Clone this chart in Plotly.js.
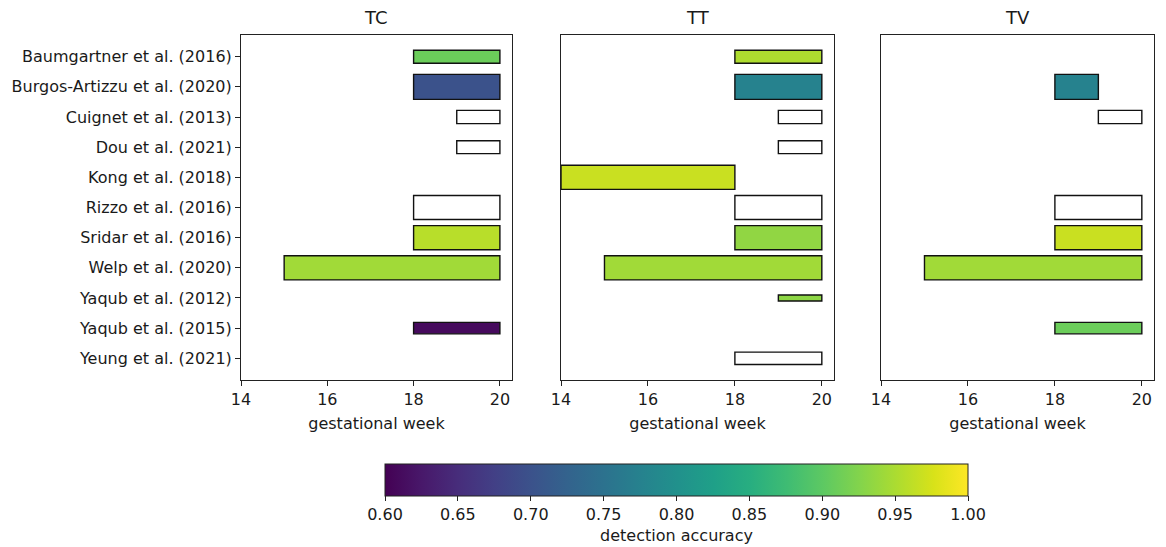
<!DOCTYPE html>
<html>
<head>
<meta charset="utf-8">
<script src="https://cdn.plot.ly/plotly-3.0.1.min.js"></script>
<style>html,body{margin:0;padding:0;background:#fff}#chart{width:1166px;height:547px}</style>
</head>
<body>
<div id="chart"></div>
<script>
// ---- data ----
const studies = ["Baumgartner et al. (2016)", "Burgos-Artizzu et al. (2020)", "Cuignet et al. (2013)", "Dou et al. (2021)", "Kong et al. (2018)", "Rizzo et al. (2016)", "Sridar et al. (2016)", "Welp et al. (2020)", "Yaqub et al. (2012)", "Yaqub et al. (2015)", "Yeung et al. (2021)"];
const thickness = [0.43, 0.83, 0.44, 0.43, 0.8, 0.8, 0.8, 0.8, 0.2, 0.38, 0.41];
const panels = ["TC", "TT", "TV"];

const tcStart = [18, 18, 19, 19, null, 18, 18, 15, null, 18, null];
const tcEnd   = [20, 20, 20, 20, null, 20, 20, 20, null, 20, null];
const tcAcc   = [0.91, 0.70, null, null, null, null, 0.958, 0.944, null, 0.61, null];

const ttStart = [18, 18, 19, 19, 14, 18, 18, 15, 19, null, 18];
const ttEnd   = [20, 20, 20, 20, 18, 20, 20, 20, 20, null, 20];
const ttAcc   = [0.952, 0.776, null, null, 0.968, null, 0.934, 0.944, 0.932, null, null];

const tvStart = [null, 18, 19, null, null, 18, 18, 15, null, 18, null];
const tvEnd   = [null, 19, 20, null, null, 20, 20, 20, null, 20, null];
const tvAcc   = [null, 0.776, null, null, null, null, 0.968, 0.944, null, 0.91, null];

const xTicks = [14, 16, 18, 20];
const accTicks = [0.60, 0.65, 0.70, 0.75, 0.80, 0.85, 0.90, 0.95, 1.00];

// ---- build ----
const FONT = "DejaVu Sans, sans-serif";
const TXT = "#1a1a1a";
const FS = 16;
const panelData = [[tcStart, tcEnd, tcAcc], [ttStart, ttEnd, ttAcc], [tvStart, tvEnd, tvAcc]];
const traces = [];
panelData.forEach((pd, p) => {
  const [st, en, ac] = pd;
  const xa = p === 0 ? "x" : "x" + (p + 1);
  const ya = p === 0 ? "y" : "y" + (p + 1);
  const col = {y: [], x: [], base: [], width: [], c: []};
  const wht = {y: [], x: [], base: [], width: []};
  studies.forEach((s, i) => {
    if (st[i] === null) return;
    const tgt = ac[i] === null ? wht : col;
    tgt.y.push(s); tgt.x.push(en[i] - st[i]); tgt.base.push(st[i]); tgt.width.push(thickness[i]);
    if (ac[i] !== null) col.c.push(ac[i]);
  });
  traces.push({
    type: "bar", orientation: "h", xaxis: xa, yaxis: ya,
    y: wht.y, x: wht.x, base: wht.base, width: wht.width,
    marker: {color: "#ffffff", line: {color: "#111", width: 1.4}},
    hoverinfo: "skip", showlegend: false
  });
  const tr = {
    type: "bar", orientation: "h", xaxis: xa, yaxis: ya,
    y: col.y, x: col.x, base: col.base, width: col.width,
    marker: {
      color: col.c, colorscale: "Viridis", cmin: 0.6, cmax: 1.0,
      line: {color: "#111", width: 1.4},
      showscale: p === 0
    },
    hoverinfo: "skip", showlegend: false
  };
  if (p === 0) {
    tr.marker.colorbar = {
      orientation: "h", x: 0.477, xanchor: "center", y: -0.2435, yanchor: "top",
      len: 583, lenmode: "pixels", thickness: 32, thicknessmode: "pixels",
      outlinecolor: "#222", outlinewidth: 1, ticks: "outside", ticklen: 5, tickcolor: "#222",
      tickvals: accTicks, ticktext: accTicks.map(v => v.toFixed(2)),
      tickfont: {family: FONT, size: FS, color: TXT},
      title: {text: "detection accuracy", side: "bottom", font: {family: FONT, size: FS, color: TXT}},
      xpad: 0, ypad: 0
    };
  }
  traces.push(tr);
});

const domains = [[0, 0.2968], [0.3505, 0.6495], [0.701, 1]];
const layout = {
  width: 1166, height: 547,
  margin: {l: 241, r: 12, t: 35, b: 167, autoexpand: false},
  paper_bgcolor: "#fff", plot_bgcolor: "#fff",
  barmode: "overlay",
  font: {family: FONT, color: TXT, size: FS},
  annotations: panels.map((t, p) => ({
    text: t, xref: "paper", yref: "paper",
    x: (domains[p][0] + domains[p][1]) / 2, y: 1, yshift: 5,
    xanchor: "center", yanchor: "bottom", showarrow: false,
    font: {family: FONT, size: 18, color: TXT}
  }))
};
panels.forEach((t, p) => {
  const xk = p === 0 ? "xaxis" : "xaxis" + (p + 1);
  const yk = p === 0 ? "yaxis" : "yaxis" + (p + 1);
  const yref = p === 0 ? "y" : "y" + (p + 1);
  layout[xk] = {
    domain: domains[p], anchor: yref, range: [14, 20.28],
    tickvals: xTicks, ticks: "outside", ticklen: 5, tickcolor: "#222",
    showgrid: false, zeroline: false, showline: true, linecolor: "#222", linewidth: 1, mirror: true,
    tickfont: {family: FONT, size: FS, color: TXT},
    title: {text: "gestational week", font: {family: FONT, size: FS, color: TXT}, standoff: 9}
  };
  layout[yk] = {
    anchor: p === 0 ? "x" : "x" + (p + 1),
    type: "category", categoryorder: "array", categoryarray: studies,
    range: [10.72, -0.72],
    showgrid: false, zeroline: false, showline: true, linecolor: "#222", linewidth: 1, mirror: true,
    ticks: p === 0 ? "outside" : "", ticklen: 5, tickcolor: "#222",
    showticklabels: p === 0,
    tickfont: {family: FONT, size: FS, color: TXT}
  };
  if (p > 0) layout[yk].matches = "y";
});

Plotly.newPlot("chart", traces, layout, {staticPlot: true, displayModeBar: false});
</script>
</body>
</html>
